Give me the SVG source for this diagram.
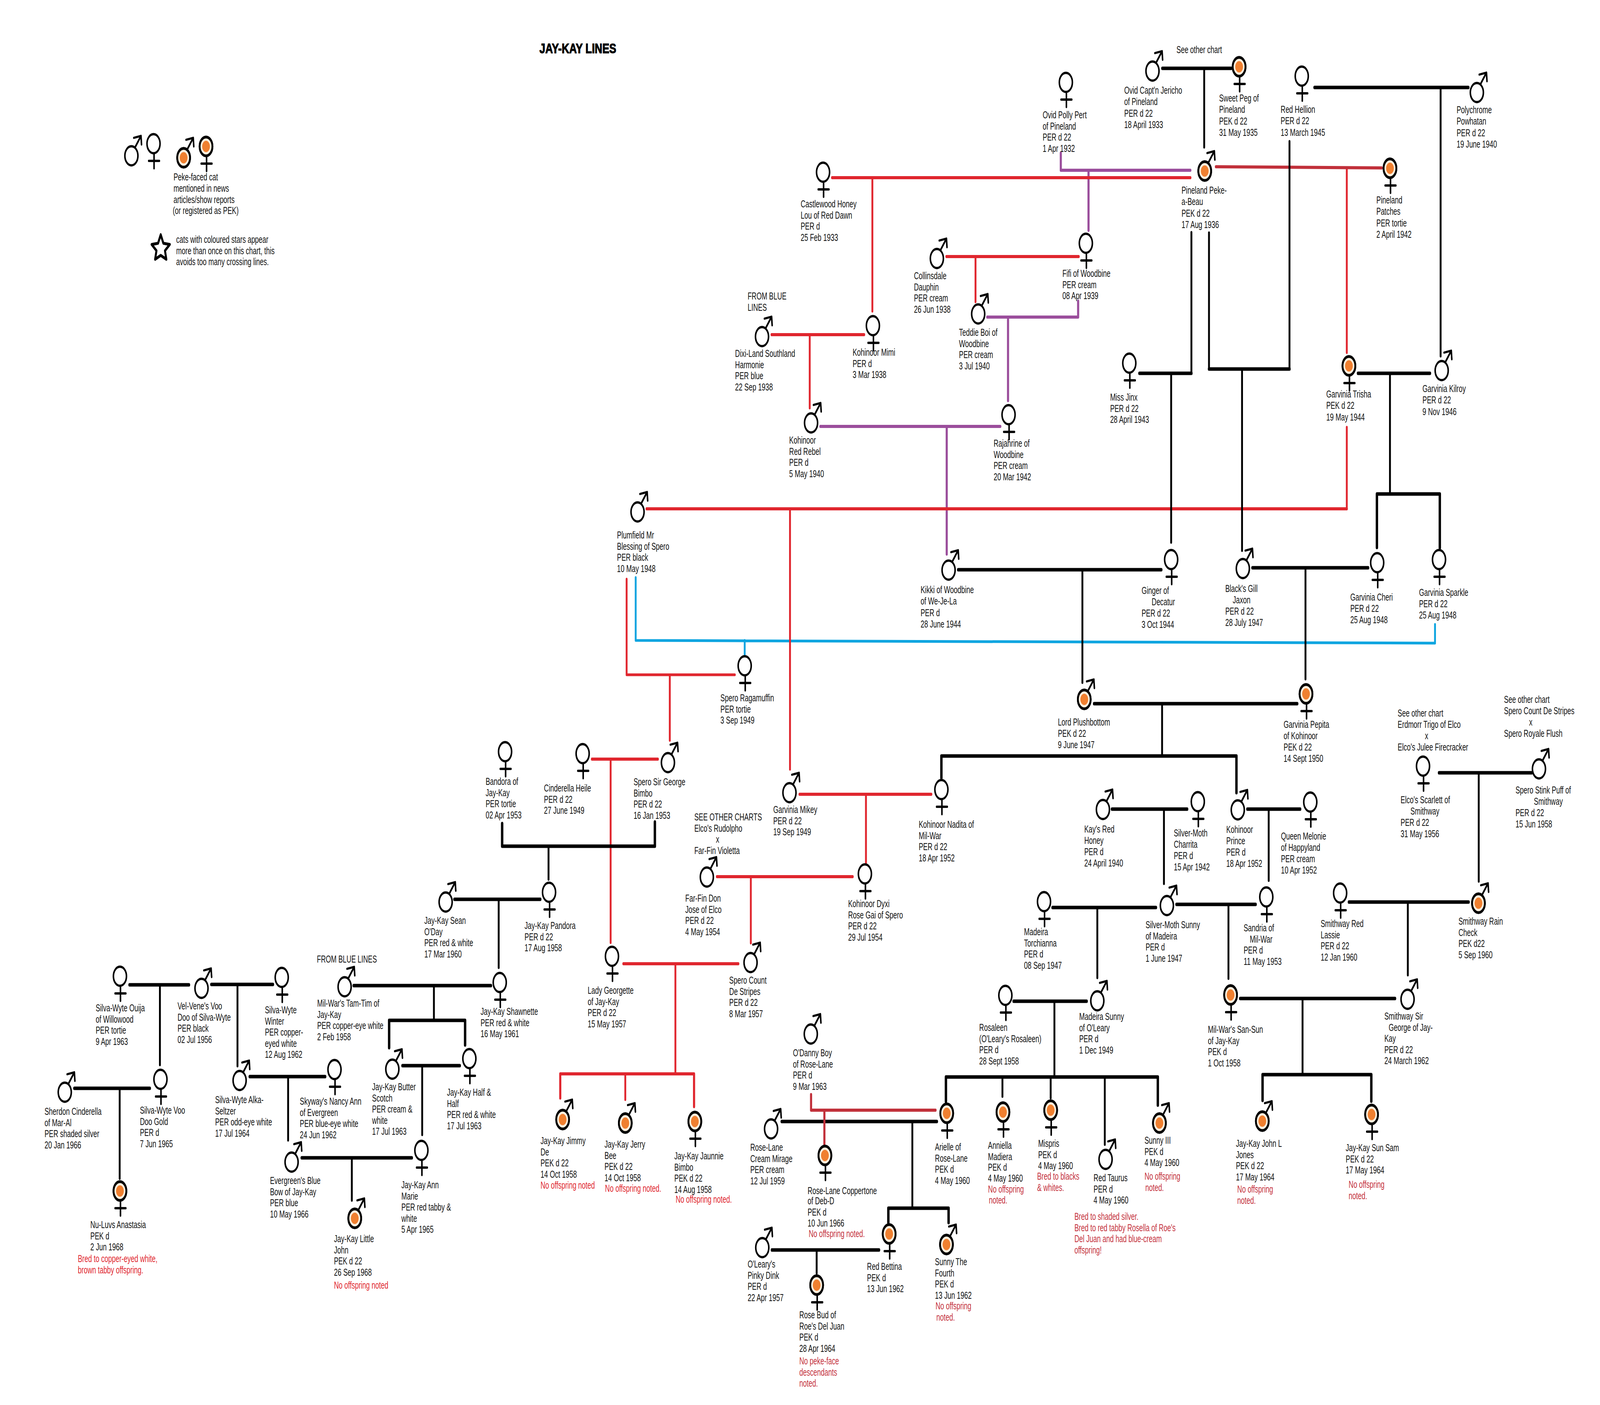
<svg xmlns="http://www.w3.org/2000/svg" width="6003" height="3598" viewBox="0 0 6003 3598" preserveAspectRatio="none">
<!-- Sizing note: the test window came out narrower than 6003px (about 4096px) and cut the drawing off, so the CSS below fits the root to the window. In a true 6003x3598 window this has no effect; in a narrower one the drawing is squeezed horizontally. -->
<style>
svg{width:100vw;height:100vh;display:block}
text{font-family:"Liberation Sans",Arial,sans-serif;font-size:25px;fill:#111}
.r{fill:#e0272f}.d{fill:#c4313c}
.c{fill:none;stroke-linecap:round;stroke-linejoin:round}
.k{stroke:#000;stroke-width:9}.kt{stroke:#000;stroke-width:7}
.red{stroke:#e0262e;stroke-width:8}.rt{stroke:#e0262e;stroke-width:7}.dr{stroke:#c1303a;stroke-width:8}
.p{stroke:#9b4e9c;stroke-width:8}.b{stroke:#0ea5e0;stroke-width:7}
.s{fill:none;stroke:#000;stroke-width:5.8;stroke-linecap:round;stroke-linejoin:round}
.title{font-size:35px;font-weight:bold;fill:#000;stroke:#000;stroke-width:1.5}
</style>
<defs>
<g id="f"><circle r="24.5" class="s" style="fill:#fff"/><path class="s" d="M2 27V63M-18 44H22"/></g>
<g id="m"><circle r="24.5" class="s" style="fill:#fff"/><path class="s" d="M14-22L36-51M9-46L36-51L38-29"/></g>
<g id="ring"><circle r="24" fill="#fdf0de" stroke="#000" stroke-width="7"/><circle r="14.5" fill="#f08030"/></g>
<g id="pf"><use href="#f"/><use href="#ring"/></g>
<g id="pm"><use href="#m"/><use href="#ring"/></g>
</defs>
<rect width="6003" height="3598" fill="#fff"/>
<g id="connectors">
<g class="c p"><path d="M3980 392V436H4466M4084 436V590M4045 771V812H3704M3782 812V1026M3078 1092H3753M3552 1092V1419"/></g>
<g class="c b"><path d="M2385 1479V1640L5384 1647V1599M2794 1640V1678"/></g>
<g class="c red"><path d="M3122 455H4466M3551 657H4047M2895 857H3242M5053 1303H2426M3000 2034H3494M2690 2245H3199M2221 1944H2468M2339 2468H2770M2102 2812V2750H2604V2834"/></g>
<g class="c rt"><path d="M3273 455V797M3660 657V773M3038 857V1045M5053 430V903M5053 1094V1303M2964 1303V1970M2351 1483V1728H2757M2513 1728V1896M3249 2034V2210M2817 2245V2415M2291 1944V2414M2534 2468V2750M2346 2750V2816"/></g>
<g class="c dr"><path d="M4562 427L5184 430"/></g>
<g class="c k"><path d="M4361 175H4619M4932 224H5509M4275 956H4470M4536 945H4838M5095 956H5365M3595 1459H4357M4699 1454H5133M5166 1402V1265H5402V1403M4105 1802H4867M3532 1992V1936H4639V2030M4172 2072H4454M4680 2072H4878M5399 1979H5747M3949 2324H4337M4414 2316H4711M3803 2564H4077M3549 2821V2758H4344V2830M4653 2557H5234M4737 2818V2752H5145V2820M5061 2310H5510M2933 2872H3515M3333 3131V3094H3559V3131M2896 3201H3298M1884 2109V2167H2457V2105M1705 2303H2027M486 2522H709M793 2521H1024M279 2787H562M937 2757H1220M1132 2965H1545M1327 2524H1842M1460 2683V2613H1745V2676M1510 2729H1725"/></g>
<g class="c kt"><path d="M4518 175V377M5405 224V912M4470 595V956M4394 956V1389M4536 596V945M4838 945V362M4660 945V1410M5215 956V1265M4061 1459V1748M4898 1454V1739M4360 1802V1936M4367 2072V2263M4760 2072V2255M5548 1979V2257M4117 2324V2504M4609 2316V2506M3956 2564V2758M3761 2758V2808M3942 2758V2812M4145 2758V2931M4887 2557V2752M5282 2310V2497M3423 2872V3092M3064 3201V3261M2058 2167V2252M1871 2303V2478M600 2522V2727M891 2521V2730M449 2787V3018M1081 2757V2920M1320 2965V3074M1628 2524V2613M1584 2729V2906"/></g>
<g class="c dr"><path d="M3043 2803V2843H3510M3093 2843V2930"/></g>
</g>
<text id="title" class="title" x="2024" y="136" textLength="288" lengthAdjust="spacingAndGlyphs">JAY-KAY LINES</text>
<g id="legend">
<use href="#m" x="493" y="399"/><use href="#f" x="576" y="368"/><use href="#pm" x="689" y="404"/><use href="#pf" x="773" y="375"/>
<text x="651" y="462">Peke-faced cat<tspan x="651" y="491">mentioned in news</tspan><tspan x="651" y="520">articles/show reports</tspan><tspan x="648" y="548">(or registered as PEK)</tspan></text>
<path d="M603 601L613 623L637 626L619 642L624 664L603 654L582 664L587 642L569 626L593 623Z" fill="#fff" stroke="#000" stroke-width="7.5" stroke-linejoin="round"/>
<text x="661" y="622">cats with coloured stars appear<tspan x="661" y="651">more than once on this chart, this</tspan><tspan x="661" y="679">avoids too many crossing lines.</tspan></text>
</g>
<g id="n-ovid-polly"><use href="#f" x="3999" y="211"/><text x="3912" y="303">Ovid Polly Pert<tspan x="3912" dy="28.6">of Pineland</tspan><tspan x="3912" dy="28.6">PER d 22</tspan><tspan x="3912" dy="28.6">1 Apr 1932</tspan></text></g>
<g id="n-castlewood"><use href="#f" x="3088" y="441"/><text x="3004" y="531">Castlewood Honey<tspan x="3004" dy="28.6">Lou of Red Dawn</tspan><tspan x="3004" dy="28.6">PER d</tspan><tspan x="3004" dy="28.6">25 Feb 1933</tspan></text></g>
<g id="n-collinsdale"><use href="#m" x="3515" y="662"/><text x="3429" y="715">Collinsdale<tspan x="3429" dy="28.6">Dauphin</tspan><tspan x="3429" dy="28.6">PER cream</tspan><tspan x="3429" dy="28.6">26 Jun 1938</tspan></text></g>
<g id="n-fifi"><use href="#f" x="4074" y="623"/><text x="3986" y="709">Fifi of Woodbine<tspan x="3986" dy="28.6">PER cream</tspan><tspan x="3986" dy="28.6">08 Apr 1939</tspan></text></g>
<g id="n-teddie"><use href="#m" x="3670" y="804"/><text x="3598" y="860">Teddie Boi of<tspan x="3598" dy="28.6">Woodbine</tspan><tspan x="3598" dy="28.6">PER cream</tspan><tspan x="3598" dy="28.6">3 Jul 1940</tspan></text></g>
<g id="n-dixi"><use href="#m" x="2859" y="862"/><text x="2805" y="767">FROM BLUE<tspan x="2805" dy="28.6">LINES</tspan></text><text x="2758" y="914">Dixi-Land Southland<tspan x="2758" dy="28.6">Harmonie</tspan><tspan x="2758" dy="28.6">PER blue</tspan><tspan x="2758" dy="28.6">22 Sep 1938</tspan></text></g>
<g id="n-mimi"><use href="#f" x="3275" y="834"/><text x="3199" y="911">Kohinoor Mimi<tspan x="3199" dy="28.6">PER d</tspan><tspan x="3199" dy="28.6">3 Mar 1938</tspan></text></g>
<g id="n-rebel"><use href="#m" x="3043" y="1083"/><text x="2961" y="1136">Kohinoor<tspan x="2961" dy="28.6">Red Rebel</tspan><tspan x="2961" dy="28.6">PER d</tspan><tspan x="2961" dy="28.6">5 May 1940</tspan></text></g>
<g id="n-rajahrine"><use href="#f" x="3784" y="1062"/><text x="3728" y="1144">Rajahrine of<tspan x="3728" dy="28.6">Woodbine</tspan><tspan x="3728" dy="28.6">PER cream</tspan><tspan x="3728" dy="28.6">20 Mar 1942</tspan></text></g>
<g id="n-jinx"><use href="#f" x="4237" y="930"/><text x="4165" y="1026">Miss Jinx<tspan x="4165" dy="28.6">PER d 22</tspan><tspan x="4165" dy="28.6">28 April 1943</tspan></text></g>
<g id="n-jericho"><use href="#m" x="4324" y="182"/><text x="4414" y="136">See other chart</text><text x="4218" y="240">Ovid Capt'n Jericho<tspan x="4218" dy="29.5">of Pineland</tspan><tspan x="4218" dy="29.5">PER d 22</tspan><tspan x="4218" dy="29.5">18 April 1933</tspan></text></g>
<g id="n-sweetpeg"><use href="#pf" x="4649" y="171"/><text x="4574" y="260">Sweet Peg of<tspan x="4574" dy="29.5">Pineland</tspan><tspan x="4574" dy="29.5">PEK d 22</tspan><tspan x="4574" dy="29.5">31 May 1935</tspan></text></g>
<g id="n-hellion"><use href="#f" x="4884" y="195"/><text x="4805" y="289">Red Hellion<tspan x="4805" dy="29.5">PER d 22</tspan><tspan x="4805" dy="29.5">13 March 1945</tspan></text></g>
<g id="n-polychrome"><use href="#m" x="5541" y="237"/><text x="5465" y="290">Polychrome<tspan x="5465" dy="29.5">Powhatan</tspan><tspan x="5465" dy="29.5">PER d 22</tspan><tspan x="5465" dy="29.5">19 June 1940</tspan></text></g>
<g id="n-pekeabeau"><use href="#pm" x="4520" y="438"/><text x="4433" y="496">Pineland Peke-<tspan x="4433" dy="29.5">a-Beau</tspan><tspan x="4433" dy="29.5">PEK d 22</tspan><tspan x="4433" dy="29.5">17 Aug 1936</tspan></text></g>
<g id="n-patches"><use href="#pf" x="5215" y="431"/><text x="5164" y="521">Pineland<tspan x="5164" dy="29.5">Patches</tspan><tspan x="5164" dy="29.5">PER tortie</tspan><tspan x="5164" dy="29.5">2 April 1942</tspan></text></g>
<g id="n-trisha"><use href="#pf" x="5061" y="937"/><text x="4976" y="1018">Garvinia Trisha<tspan x="4976" dy="29.5">PEK d 22</tspan><tspan x="4976" dy="29.5">19 May 1944</tspan></text></g>
<g id="n-kilroy"><use href="#m" x="5409" y="949"/><text x="5337" y="1004">Garvinia Kilroy<tspan x="5337" dy="29.5">PER d 22</tspan><tspan x="5337" dy="29.5">9 Nov 1946</tspan></text></g>
<g id="n-plumfield"><use href="#m" x="2392" y="1311"/><text x="2315" y="1379">Plumfield Mr<tspan x="2315" dy="28.6">Blessing of Spero</tspan><tspan x="2315" dy="28.6">PER black</tspan><tspan x="2315" dy="28.6">10 May 1948</tspan></text></g>
<g id="n-ragamuffin"><use href="#f" x="2794" y="1705"/><text x="2703" y="1796">Spero Ragamuffin<tspan x="2703" dy="28.6">PER tortie</tspan><tspan x="2703" dy="28.6">3 Sep 1949</tspan></text></g>
<g id="n-kikki"><use href="#m" x="3559" y="1460"/><text x="3454" y="1519">Kikki of Woodbine<tspan x="3454" dy="29.5">of We-Je-La</tspan><tspan x="3454" dy="29.5">PER d</tspan><tspan x="3454" dy="29.5">28 June 1944</tspan></text></g>
<g id="n-sirgeorge"><use href="#m" x="2506" y="1953"/><text x="2377" y="2011">Spero Sir George<tspan x="2377" dy="28.6">Bimbo</tspan><tspan x="2377" dy="28.6">PER d 22</tspan><tspan x="2377" dy="28.6">16 Jan 1953</tspan></text></g>
<g id="n-mikey"><use href="#m" x="2962" y="2030"/><text x="2901" y="2082">Garvinia Mikey<tspan x="2901" dy="28.6">PER d 22</tspan><tspan x="2901" dy="28.6">19 Sep 1949</tspan></text></g>
<g id="n-nadita"><use href="#f" x="3532" y="2022"/><text x="3447" y="2120">Kohinoor Nadita of<tspan x="3447" dy="28.6">Mil-War</tspan><tspan x="3447" dy="28.6">PER d 22</tspan><tspan x="3447" dy="28.6">18 Apr 1952</tspan></text></g>
<g id="n-farfin"><use href="#m" x="2652" y="2246"/><text x="2605" y="2101">SEE OTHER CHARTS<tspan x="2605" dy="28.6">Elco's Rudolpho</tspan><tspan x="2686" dy="28.6">x</tspan><tspan x="2605" dy="28.6">Far-Fin Violetta</tspan></text><text x="2571" y="2309">Far-Fin Don<tspan x="2571" dy="28.6">Jose of Elco</tspan><tspan x="2571" dy="28.6">PER d 22</tspan><tspan x="2571" dy="28.6">4 May 1954</tspan></text></g>
<g id="n-dyxi"><use href="#f" x="3245" y="2238"/><text x="3182" y="2323">Kohinoor Dyxi<tspan x="3182" dy="28.6">Rose Gai of Spero</tspan><tspan x="3182" dy="28.6">PER d 22</tspan><tspan x="3182" dy="28.6">29 Jul 1954</tspan></text></g>
<g id="n-plushbottom"><use href="#pm" x="4068" y="1791"/><text x="3969" y="1858">Lord Plushbottom<tspan x="3969" dy="29">PEK d 22</tspan><tspan x="3969" dy="29">9 June 1947</tspan></text></g>
<g id="n-ginger"><use href="#f" x="4394" y="1433"/><text x="4283" y="1521">Ginger of<tspan x="4321" dy="29">Decatur</tspan><tspan x="4283" dy="29">PER d 22</tspan><tspan x="4283" dy="29">3 Oct 1944</tspan></text></g>
<g id="n-blacksgill"><use href="#m" x="4663" y="1456"/><text x="4597" y="1516">Black's Gill<tspan x="4625" dy="29">Jaxon</tspan><tspan x="4597" dy="29">PER d 22</tspan><tspan x="4597" dy="29">28 July 1947</tspan></text></g>
<g id="n-cheri"><use href="#f" x="5167" y="1441"/><text x="5066" y="1538">Garvinia Cheri<tspan x="5066" dy="29">PER d 22</tspan><tspan x="5066" dy="29">25 Aug 1948</tspan></text></g>
<g id="n-sparkle"><use href="#f" x="5399" y="1433"/><text x="5324" y="1526">Garvinia Sparkle<tspan x="5324" dy="29">PER d 22</tspan><tspan x="5324" dy="29">25 Aug 1948</tspan></text></g>
<g id="n-pepita"><use href="#pf" x="4900" y="1777"/><text x="4816" y="1864">Garvinia Pepita<tspan x="4816" dy="29">of Kohinoor</tspan><tspan x="4816" dy="29">PEK d 22</tspan><tspan x="4816" dy="29">14 Sept 1950</tspan></text></g>
<g id="n-kaysred"><use href="#m" x="4138" y="2073"/><text x="4068" y="2132">Kay's Red<tspan x="4068" dy="29">Honey</tspan><tspan x="4068" dy="29">PER d</tspan><tspan x="4068" dy="29">24 April 1940</tspan></text></g>
<g id="n-charrita"><use href="#f" x="4494" y="2053"/><text x="4404" y="2142">Silver-Moth<tspan x="4404" dy="29">Charrita</tspan><tspan x="4404" dy="29">PER d</tspan><tspan x="4404" dy="29">15 Apr 1942</tspan></text></g>
<g id="n-prince"><use href="#m" x="4644" y="2074"/><text x="4601" y="2133">Kohinoor<tspan x="4601" dy="29">Prince</tspan><tspan x="4601" dy="29">PER d</tspan><tspan x="4601" dy="29">18 Apr 1952</tspan></text></g>
<g id="n-melonie"><use href="#f" x="4916" y="2054"/><text x="4806" y="2150">Queen Melonie<tspan x="4806" dy="29">of Happyland</tspan><tspan x="4806" dy="29">PER cream</tspan><tspan x="4806" dy="29">10 Apr 1952</tspan></text></g>
<g id="n-scarlett"><use href="#f" x="5339" y="1962"/><text x="5244" y="1835">See other chart<tspan x="5244" dy="29">Erdmorr Trigo of Elco</tspan><tspan x="5346" dy="29">x</tspan><tspan x="5244" dy="29">Elco's Julee Firecracker</tspan></text><text x="5255" y="2057">Elco's Scarlett of<tspan x="5292" dy="29">Smithway</tspan><tspan x="5255" dy="29">PER d 22</tspan><tspan x="5255" dy="29">31 May 1956</tspan></text></g>
<g id="n-stinkpuff"><use href="#m" x="5774" y="1969"/><text x="5643" y="1800">See other chart<tspan x="5643" dy="29">Spero Count De Stripes</tspan><tspan x="5737" dy="29">x</tspan><tspan x="5643" dy="29">Spero Royale Flush</tspan></text><text x="5686" y="2032">Spero Stink Puff of<tspan x="5755" dy="29">Smithway</tspan><tspan x="5686" dy="29">PER d 22</tspan><tspan x="5686" dy="29">15 Jun 1958</tspan></text></g>
<g id="n-raincheck"><use href="#pm" x="5547" y="2313"/><text x="5472" y="2368">Smithway Rain<tspan x="5472" dy="28.6">Check</tspan><tspan x="5472" dy="28.6">PEK d22</tspan><tspan x="5472" dy="28.6">5 Sep 1960</tspan></text></g>
<g id="n-torchianna"><use href="#f" x="3917" y="2309"/><text x="3842" y="2395">Madeira<tspan x="3842" dy="28.6">Torchianna</tspan><tspan x="3842" dy="28.6">PER d</tspan><tspan x="3842" dy="28.6">08 Sep 1947</tspan></text></g>
<g id="n-silvermoth"><use href="#m" x="4378" y="2319"/><text x="4298" y="2377">Silver-Moth Sunny<tspan x="4298" dy="28.6">of Madeira</tspan><tspan x="4298" dy="28.6">PER d</tspan><tspan x="4298" dy="28.6">1 June 1947</tspan></text></g>
<g id="n-sandria"><use href="#f" x="4751" y="2297"/><text x="4666" y="2385">Sandria of<tspan x="4689" dy="28.6">Mil-War</tspan><tspan x="4666" dy="28.6">PER d</tspan><tspan x="4666" dy="28.6">11 May 1953</tspan></text></g>
<g id="n-sansun"><use href="#pf" x="4617" y="2548"/><text x="4532" y="2645">Mil-War's San-Sun<tspan x="4532" dy="28.6">of Jay-Kay</tspan><tspan x="4532" dy="28.6">PEK d</tspan><tspan x="4532" dy="28.6">1 Oct 1958</tspan></text></g>
<g id="n-rosaleen"><use href="#f" x="3772" y="2549"/><text x="3674" y="2640">Rosaleen<tspan x="3674" dy="28.6">(O'Leary's Rosaleen)</tspan><tspan x="3674" dy="28.6">PER d</tspan><tspan x="3674" dy="28.6">28 Sept 1958</tspan></text></g>
<g id="n-madeirasunny"><use href="#m" x="4117" y="2563"/><text x="4049" y="2612">Madeira Sunny<tspan x="4049" dy="28.6">of O'Leary</tspan><tspan x="4049" dy="28.6">PER d</tspan><tspan x="4049" dy="28.6">1 Dec 1949</tspan></text></g>
<g id="n-anniella"><use href="#pf" x="3763" y="2848"/><text x="3707" y="2942">Anniella<tspan x="3707" dy="28.6">Madiera</tspan><tspan x="3707" dy="27">PEK d</tspan><tspan x="3707" dy="28">4 May 1960</tspan><tspan class="d" x="3707" dy="28">No offspring</tspan><tspan class="d" x="3710" dy="28">noted.</tspan></text></g>
<g id="n-mispris"><use href="#pf" x="3942" y="2843"/><text x="3895" y="2937">Mispris<tspan x="3895" dy="28.6">PEK d</tspan><tspan x="3895" dy="28.6">4 May 1960</tspan><tspan class="d" x="3891" y="3021">Bred to blacks</tspan><tspan class="d" x="3891" dy="28.6">&amp; whites.</tspan></text></g>
<g id="n-taurus"><use href="#m" x="4148" y="2969"/><text x="4103" y="3025">Red Taurus<tspan x="4103" dy="28.6">PER d</tspan><tspan x="4103" dy="28.6">4 May 1960</tspan><tspan class="d" x="4031" y="3124">Bred to shaded silver.</tspan><tspan class="d" x="4031" dy="28.6">Bred to red tabby Rosella of Roe's</tspan><tspan class="d" x="4031" dy="28.6">Del Juan and had blue-cream</tspan><tspan class="d" x="4031" dy="28.6">offspring!</tspan></text></g>
<g id="n-sunny3"><use href="#pm" x="4350" y="2876"/><text x="4294" y="2929">Sunny III<tspan x="4294" dy="28.6">PEK d</tspan><tspan x="4294" dy="28.6">4 May 1960</tspan><tspan class="d" x="4294" y="3021">No offspring</tspan><tspan class="d" x="4297" dy="28.6">noted.</tspan></text></g>
<g id="n-johnl"><use href="#pm" x="4736" y="2871"/><text x="4637" y="2937">Jay-Kay John L<tspan x="4637" dy="28.6">Jones</tspan><tspan x="4637" dy="28.6">PEK d 22</tspan><tspan x="4637" dy="28.6">17 May 1964</tspan><tspan class="d" x="4642" y="3054">No offspring</tspan><tspan class="d" x="4642" dy="28.6">noted.</tspan></text></g>
<g id="n-sunsam"><use href="#pf" x="5146" y="2854"/><text x="5049" y="2948">Jay-Kay Sun Sam<tspan x="5049" dy="28.6">PEK d 22</tspan><tspan x="5049" dy="28.6">17 May 1964</tspan><tspan class="d" x="5060" y="3042">No offspring</tspan><tspan class="d" x="5060" dy="28.6">noted.</tspan></text></g>
<g id="n-redlassie"><use href="#f" x="5028" y="2287"/><text x="4955" y="2374">Smithway Red<tspan x="4955" dy="28.6">Lassie</tspan><tspan x="4955" dy="28.6">PER d 22</tspan><tspan x="4955" dy="28.6">12 Jan 1960</tspan></text></g>
<g id="n-smithgeorge"><use href="#m" x="5281" y="2559"/><text x="5194" y="2611">Smithway Sir<tspan x="5210" dy="28.6">George of Jay-</tspan><tspan x="5194" dy="28.6">Kay</tspan><tspan x="5194" dy="28.6">PER d 22</tspan><tspan x="5194" dy="28.6">24 March 1962</tspan></text></g>
<g id="n-odanny"><use href="#m" x="3042" y="2648"/><text x="2975" y="2705">O'Danny Boy<tspan x="2975" dy="28.6">of Rose-Lane</tspan><tspan x="2975" dy="28.6">PER d</tspan><tspan x="2975" dy="28.6">9 Mar 1963</tspan></text></g>
<g id="n-mirage"><use href="#m" x="2893" y="2891"/><text x="2815" y="2947">Rose-Lane<tspan x="2815" dy="28.6">Cream Mirage</tspan><tspan x="2815" dy="28.6">PER cream</tspan><tspan x="2815" dy="28.6">12 Jul 1959</tspan></text></g>
<g id="n-arielle"><use href="#pf" x="3552" y="2851"/><text x="3508" y="2946">Arielle of<tspan x="3508" dy="28.6">Rose-Lane</tspan><tspan x="3508" dy="28.6">PEK d</tspan><tspan x="3508" dy="28.6">4 May 1960</tspan></text></g>
<g id="n-coppertone"><use href="#pf" x="3095" y="2959"/><text x="3030" y="3058">Rose-Lane Coppertone<tspan x="3030" dy="26">of Deb-D</tspan><tspan x="3030" dy="28.6">PEK d</tspan><tspan x="3030" dy="28.6">10 Jun 1966</tspan><tspan class="d" x="3034" y="3168">No offspring noted.</tspan></text></g>
<g id="n-pinkydink"><use href="#m" x="2860" y="3195"/><text x="2805" y="3246">O'Leary's<tspan x="2805" dy="28.6">Pinky Dink</tspan><tspan x="2805" dy="28.6">PER d</tspan><tspan x="2805" dy="28.6">22 Apr 1957</tspan></text></g>
<g id="n-bettina"><use href="#pf" x="3336" y="3160"/><text x="3253" y="3252">Red Bettina<tspan x="3253" dy="28.6">PEK d</tspan><tspan x="3253" dy="28.6">13 Jun 1962</tspan></text></g>
<g id="n-sunny4"><use href="#pm" x="3551" y="3187"/><text x="3508" y="3240">Sunny The<tspan x="3508" dy="28.6">Fourth</tspan><tspan x="3508" dy="28.6">PEK d</tspan><tspan x="3508" dy="28.6">13 Jun 1962</tspan><tspan class="d" x="3510" y="3353">No offspring</tspan><tspan class="d" x="3513" dy="28.6">noted.</tspan></text></g>
<g id="n-rosebud"><use href="#pf" x="3064" y="3291"/><text x="2999" y="3376">Rose Bud of<tspan x="2999" dy="28.6">Roe's Del Juan</tspan><tspan x="2999" dy="28.6">PEK d</tspan><tspan x="2999" dy="28.6">28 Apr 1964</tspan><tspan class="d" x="2999" y="3494">No peke-face</tspan><tspan class="d" x="2999" dy="28.6">descendants</tspan><tspan class="d" x="2999" dy="28.6">noted.</tspan></text></g>
<g id="n-bandora"><use href="#f" x="1895" y="1925"/><text x="1822" y="2010">Bandora of<tspan x="1822" dy="28.6">Jay-Kay</tspan><tspan x="1822" dy="28.6">PER tortie</tspan><tspan x="1822" dy="28.6">02 Apr 1953</tspan></text></g>
<g id="n-heile"><use href="#f" x="2186" y="1930"/><text x="2041" y="2027">Cinderella Heile<tspan x="2041" dy="28.6">PER d 22</tspan><tspan x="2041" dy="28.6">27 June 1949</tspan></text></g>
<g id="n-pandora"><use href="#f" x="2060" y="2285"/><text x="1968" y="2379">Jay-Kay Pandora<tspan x="1968" dy="28.6">PER d 22</tspan><tspan x="1968" dy="28.6">17 Aug 1958</tspan></text></g>
<g id="n-sean"><use href="#m" x="1672" y="2310"/><text x="1592" y="2366">Jay-Kay Sean<tspan x="1592" dy="28.6">O'Day</tspan><tspan x="1592" dy="28.6">PER red &amp; white</tspan><tspan x="1592" dy="28.6">17 Mar 1960</tspan></text></g>
<g id="n-shawnette"><use href="#f" x="1875" y="2516"/><text x="1803" y="2599">Jay-Kay Shawnette<tspan x="1803" dy="28.6">PER red &amp; white</tspan><tspan x="1803" dy="28.6">16 May 1961</tspan></text></g>
<g id="n-georgette"><use href="#f" x="2296" y="2449"/><text x="2205" y="2545">Lady Georgette<tspan x="2205" dy="28.6">of Jay-Kay</tspan><tspan x="2205" dy="28.6">PER d 22</tspan><tspan x="2205" dy="28.6">15 May 1957</tspan></text></g>
<g id="n-jimmy"><use href="#pm" x="2111" y="2867"/><text x="2028" y="2930">Jay-Kay Jimmy<tspan x="2028" dy="28.6">De</tspan><tspan x="2028" dy="28.6">PEK d 22</tspan><tspan x="2028" dy="28.6">14 Oct 1958</tspan><tspan class="r" x="2028" y="3044">No offspring noted</tspan></text></g>
<g id="n-jerry"><use href="#pm" x="2346" y="2876"/><text x="2268" y="2939">Jay-Kay Jerry<tspan x="2268" dy="28.6">Bee</tspan><tspan x="2268" dy="28.6">PEK d 22</tspan><tspan x="2268" dy="28.6">14 Oct 1958</tspan><tspan class="r" x="2270" y="3052">No offspring noted.</tspan></text></g>
<g id="n-jaunnie"><use href="#pf" x="2607" y="2872"/><text x="2530" y="2969">Jay-Kay Jaunnie<tspan x="2530" dy="28.6">Bimbo</tspan><tspan x="2530" dy="28.6">PEK d 22</tspan><tspan x="2530" dy="28.6">14 Aug 1958</tspan><tspan class="r" x="2535" y="3080">No offspring noted.</tspan></text></g>
<g id="n-countstripes"><use href="#m" x="2816" y="2465"/><text x="2736" y="2519">Spero Count<tspan x="2736" dy="28.6">De Stripes</tspan><tspan x="2736" dy="28.6">PER d 22</tspan><tspan x="2736" dy="28.6">8 Mar 1957</tspan></text></g>
<g id="n-ouija"><use href="#f" x="450" y="2500"/><text x="359" y="2590">Silva-Wyte Ouija<tspan x="359" dy="28.6">of Willowood</tspan><tspan x="359" dy="28.6">PER tortie</tspan><tspan x="359" dy="28.6">9 Apr 1963</tspan></text></g>
<g id="n-velvene"><use href="#m" x="756" y="2531"/><text x="666" y="2585">Vel-Vene's Voo<tspan x="666" dy="28.6">Doo of Silva-Wyte</tspan><tspan x="666" dy="28.6">PER black</tspan><tspan x="666" dy="28.6">02 Jul 1956</tspan></text></g>
<g id="n-winter"><use href="#f" x="1057" y="2503"/><text x="994" y="2595">Silva-Wyte<tspan x="994" dy="28.6">Winter</tspan><tspan x="994" dy="28.6">PER copper-</tspan><tspan x="994" dy="28.6">eyed white</tspan><tspan x="994" dy="28.6">12 Aug 1962</tspan></text></g>
<g id="n-voodoo"><use href="#f" x="602" y="2764"/><text x="525" y="2852">Silva-Wyte Voo<tspan x="525" dy="28.6">Doo Gold</tspan><tspan x="525" dy="28.6">PER d</tspan><tspan x="525" dy="28.6">7 Jun 1965</tspan></text></g>
<g id="n-sherdon"><use href="#m" x="243" y="2797"/><text x="167" y="2855">Sherdon Cinderella<tspan x="167" dy="28.6">of Mar-Al</tspan><tspan x="167" dy="28.6">PER shaded silver</tspan><tspan x="167" dy="28.6">20 Jan 1966</tspan></text></g>
<g id="n-anastasia"><use href="#pf" x="450" y="3050"/><text x="339" y="3145">Nu-Luvs Anastasia<tspan x="339" dy="28.6">PEK d</tspan><tspan x="339" dy="28.6">2 Jun 1968</tspan><tspan class="r" x="292" y="3232">Bred to copper-eyed white,</tspan><tspan class="r" x="292" dy="28.6">brown tabby offspring.</tspan></text></g>
<g id="n-alka"><use href="#m" x="899" y="2767"/><text x="807" y="2825">Silva-Wyte Alka-<tspan x="807" dy="28.6">Seltzer</tspan><tspan x="807" dy="28.6">PER odd-eye white</tspan><tspan x="807" dy="28.6">17 Jul 1964</tspan></text></g>
<g id="n-nancyann"><use href="#f" x="1255" y="2739"/><text x="1125" y="2829">Skyway's Nancy Ann<tspan x="1125" dy="28.6">of Evergreen</tspan><tspan x="1125" dy="28.6">PER blue-eye white</tspan><tspan x="1125" dy="28.6">24 Jun 1962</tspan></text></g>
<g id="n-bluebow"><use href="#m" x="1094" y="2976"/><text x="1013" y="3032">Evergreen's Blue<tspan x="1013" dy="28.6">Bow of Jay-Kay</tspan><tspan x="1013" dy="28.6">PER blue</tspan><tspan x="1013" dy="28.6">10 May 1966</tspan></text></g>
<g id="n-littlejohn"><use href="#pm" x="1331" y="3120"/><text x="1253" y="3181">Jay-Kay Little<tspan x="1253" dy="28.6">John</tspan><tspan x="1253" dy="28.6">PEK d 22</tspan><tspan x="1253" dy="28.6">26 Sep 1968</tspan><tspan class="r" x="1253" y="3300">No offspring noted</tspan></text></g>
<g id="n-annmarie"><use href="#f" x="1581" y="2946"/><text x="1506" y="3043">Jay-Kay Ann<tspan x="1506" dy="28.6">Marie</tspan><tspan x="1506" dy="28.6">PER red tabby &amp;</tspan><tspan x="1506" dy="28.6">white</tspan><tspan x="1506" dy="28.6">5 Apr 1965</tspan></text></g>
<g id="n-tamtim"><use href="#m" x="1293" y="2527"/><text x="1189" y="2465">FROM BLUE LINES</text><text x="1190" y="2578">Mil-War's Tam-Tim of<tspan x="1190" dy="28.6">Jay-Kay</tspan><tspan x="1190" dy="28.6">PER copper-eye white</tspan><tspan x="1190" dy="28.6">2 Feb 1958</tspan></text></g>
<g id="n-butterscotch"><use href="#m" x="1472" y="2738"/><text x="1396" y="2792">Jay-Kay Butter<tspan x="1396" dy="28.6">Scotch</tspan><tspan x="1396" dy="28.6">PER cream &amp;</tspan><tspan x="1396" dy="28.6">white</tspan><tspan x="1396" dy="28.6">17 Jul 1963</tspan></text></g>
<g id="n-halfhalf"><use href="#f" x="1761" y="2711"/><text x="1677" y="2806">Jay-Kay Half &amp;<tspan x="1677" dy="28.6">Half</tspan><tspan x="1677" dy="28.6">PER red &amp; white</tspan><tspan x="1677" dy="28.6">17 Jul 1963</tspan></text></g>
</svg>
